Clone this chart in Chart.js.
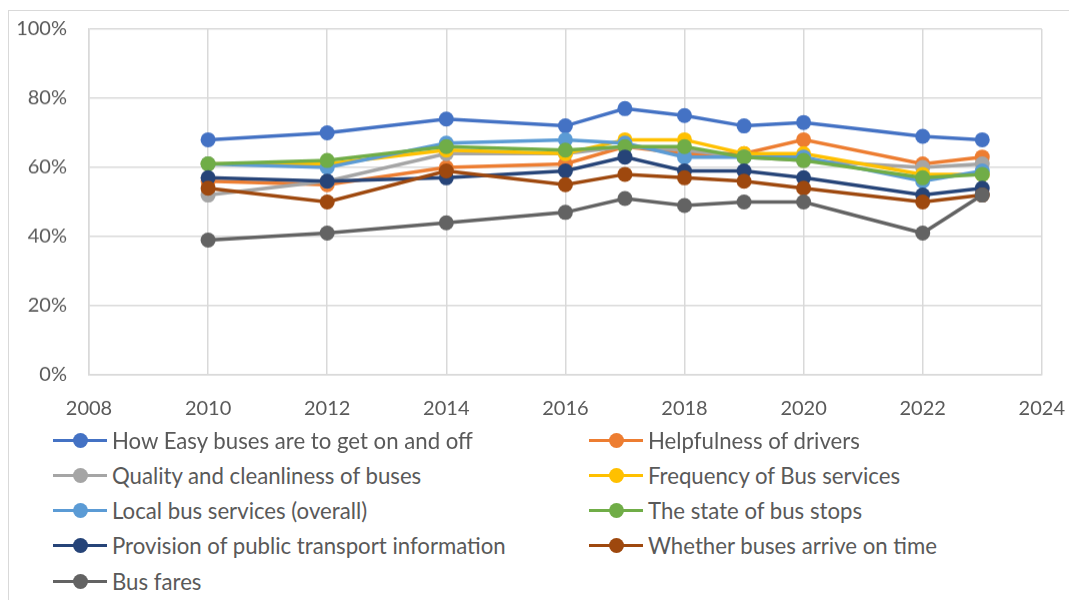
<!DOCTYPE html>
<html>
<head>
<meta charset="utf-8">
<script src="https://cdn.jsdelivr.net/npm/chart.js@4.4.1/dist/chart.umd.min.js"></script>
<style>
  html, body { margin: 0; padding: 0; background: #fff; }
  body { width: 1069px; height: 600px; position: relative; overflow: hidden; font-family: Lato, 'Open Sans', sans-serif; }
  #frame { position: absolute; left: 8px; top: 10px; width: 1070px; height: 600px; border: 1px solid #d9d9d9; box-sizing: border-box; }
  #wrap { position: absolute; left: 9px; top: -4.7px; width: 1078px; height: 434.7px; }
  #legend { position: absolute; left: 0; top: 0; }
  .item { position: absolute; height: 30px; display: flex; align-items: center; color: #595959; font-size: 22.2px; white-space: nowrap; }
  .mark { position: relative; width: 54px; height: 30px; margin-right: 5px; }
  .mark .ln { position: absolute; left: 0; right: 0; top: 13.5px; height: 3px; }
  .mark .dot { position: absolute; left: 19.5px; top: 7.5px; width: 15px; height: 15px; border-radius: 50%; }
</style>
</head>
<body>
<div id="frame"></div>
<div id="wrap"><canvas id="chart"></canvas></div>
<div id="legend"></div>
<script>
'use strict';

const YEARS = [2010, 2012, 2014, 2016, 2017, 2018, 2019, 2020, 2022, 2023];

const SERIES_NAMES = [
  'How Easy buses are to get on and off',
  'Helpfulness of drivers',
  'Quality and cleanliness of buses',
  'Frequency of Bus services',
  'Local bus services (overall)',
  'The state of bus stops',
  'Provision of public transport information',
  'Whether buses arrive on time',
  'Bus fares',
];

// values in %, one per year
const easyOnOff   = [68, 70, 74, 72, 77, 75, 72, 73, 69, 68];
const helpfulness = [56, 55, 60, 61, 66, 64, 64, 68, 61, 63];
const quality     = [52, 56, 64, 64, 66, 65, 63, 62, 60, 61];
const frequency   = [61, 61, 65, 64, 68, 68, 64, 64, 58, 58];
const localBus    = [61, 60, 67, 68, 67, 63, 63, 63, 56, 59];
const busStops    = [61, 62, 66, 65, 66, 66, 63, 62, 57, 58];
const provision   = [57, 56, 57, 59, 63, 59, 59, 57, 52, 54];
const onTime      = [54, 50, 59, 55, 58, 57, 56, 54, 50, 52];
const fares       = [39, 41, 44, 47, 51, 49, 50, 50, 41, 52];

const X_TICKS = [2008, 2010, 2012, 2014, 2016, 2018, 2020, 2022, 2024];
const Y_TICKS = [0, 20, 40, 60, 80, 100];

const COLORS = ['#4472C4', '#ED7D31', '#A5A5A5', '#FFC000', '#5B9BD5', '#70AD47', '#264478', '#9E480E', '#636363'];

const VALUES = [easyOnOff, helpfulness, quality, frequency, localBus, busStops, provision, onTime, fares];

const datasets = VALUES.map((vals, i) => ({
  label: SERIES_NAMES[i],
  data: vals.map((v, j) => ({ x: YEARS[j], y: v })),
  borderColor: COLORS[i],
  backgroundColor: COLORS[i],
  borderWidth: 3.5,
  pointRadius: 7.5,
  pointHoverRadius: 7.5,
  pointBorderWidth: 0,
  tension: 0,
  order: VALUES.length - i,   // later series drawn on top, like Excel
}));

const FONT = { family: 'Lato, "Open Sans", sans-serif', size: 20 };
const GRID = '#d9d9d9';

new Chart(document.getElementById('chart'), {
  type: 'line',
  data: { datasets },
  options: {
    responsive: true,
    maintainAspectRatio: false,
    animation: false,
    layout: { padding: { left: 0, right: 8, top: 4, bottom: 0 } },
    plugins: { legend: { display: false }, tooltip: { enabled: false } },
    scales: {
      x: {
        type: 'linear',
        min: 2008, max: 2024,
        afterBuildTicks: s => { s.ticks = X_TICKS.map(v => ({ value: v })); },
        afterFit: s => { s.height = 55.7; },
        ticks: { color: '#595959', font: FONT, padding: 22, callback: v => String(v) },
        grid: { color: GRID, lineWidth: 1.5, drawTicks: false },
        border: { color: GRID, width: 1.5 },
      },
      y: {
        min: 0, max: 100,
        afterBuildTicks: s => { s.ticks = Y_TICKS.map(v => ({ value: v })); },
        afterFit: s => { s.width = 80; },
        ticks: { color: '#595959', font: FONT, padding: 22, callback: v => v + '%' },
        grid: { color: GRID, lineWidth: 1.5, drawTicks: false },
        border: { color: GRID, width: 1.5 },
      },
    },
  },
});

// legend in two columns, like the spreadsheet original
const legendEl = document.getElementById('legend');
const COL_X = [53, 589];
const ROW_Y = [440.5, 475.5, 510.5, 545.5, 581];
SERIES_NAMES.forEach((name, i) => {
  const item = document.createElement('div');
  item.className = 'item';
  item.style.left = COL_X[i % 2] + 'px';
  item.style.top = (ROW_Y[Math.floor(i / 2)] - 15) + 'px';
  item.innerHTML = `<span class="mark"><span class="ln" style="background:${COLORS[i]}"></span>` +
    `<span class="dot" style="background:${COLORS[i]}"></span></span><span>${name}</span>`;
  legendEl.appendChild(item);
});
</script>
</body>
</html>
